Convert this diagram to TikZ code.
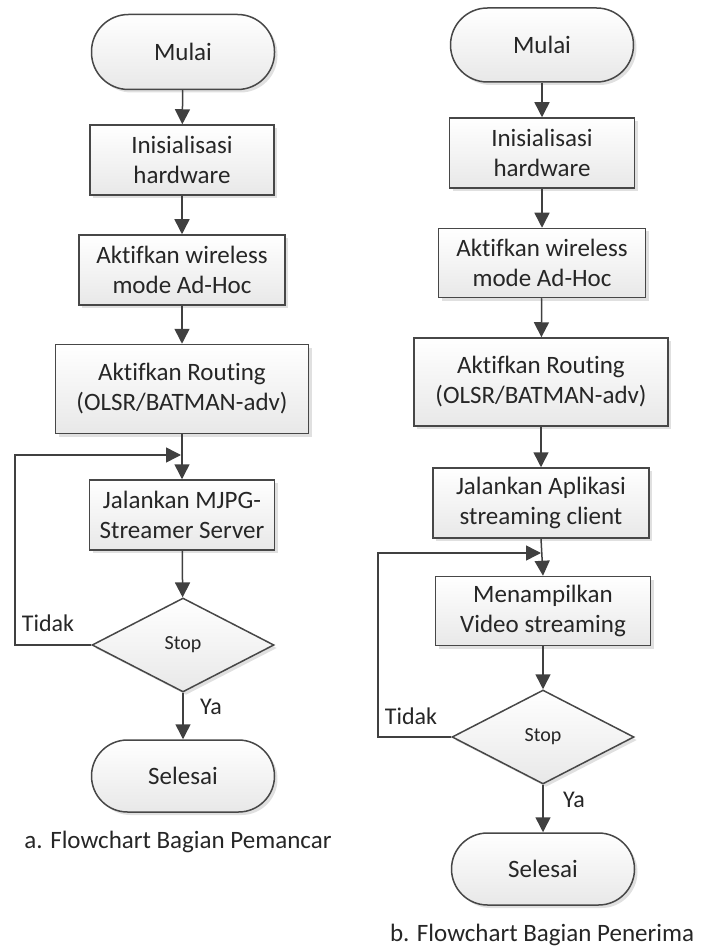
\documentclass[tikz,border=0pt]{standalone}
\usepackage{fontspec}
\setmainfont{Carlito}[Ligatures={NoCommon}]
\usetikzlibrary{arrows.meta,shapes.geometric,shadows}

\begin{document}
\begin{tikzpicture}[x=1pt,y=-1pt,
  every node/.style={font=\fontsize{25}{30}\selectfont, text=black!85},
  boxbase/.style={draw=black!72, line width=1.5pt, top color=white, bottom color=black!9,
    drop shadow={shadow xshift=3pt, shadow yshift=-3pt, fill=black!12, opacity=1},
    inner sep=0pt, align=center},
  procbox/.style={boxbase, rectangle},
  termbox/.style={boxbase, rectangle, rounded corners=36pt, minimum width=183pt, minimum height=73pt},
  decbox/.style={boxbase, diamond, minimum width=182pt, minimum height=94pt,
    font=\fontsize{20}{24}\selectfont},
  flow/.style={draw=black!75, line width=1.5pt, -{Triangle[length=15pt,width=15pt]}},
  looptext/.style={font=\fontsize{24}{28}\selectfont},
  captext/.style={font=\fontsize{25}{30}\selectfont}
]
\useasboundingbox (0,0) rectangle (702,949);

% ---------- transmitter side ----------
\node[termbox, minimum height=75pt, rounded corners=37pt] (L1) at (183,52) {Mulai};
\node[procbox, minimum width=184pt, minimum height=70pt] (L2) at (182,160) {Inisialisasi\\hardware};
\node[procbox, minimum width=206pt, minimum height=70pt] (L3) at (182,270) {Aktifkan wireless\\mode Ad-Hoc};
\node[procbox, minimum width=253pt, minimum height=89pt] (L4) at (182,389) {Aktifkan Routing\\(OLSR/BATMAN-adv)};
\node[procbox, minimum width=185pt, minimum height=70pt] (L5) at (182,515) {Jalankan MJPG-\\Streamer Server};
\node[decbox] (L6) at (183,645) {Stop};
\node[termbox, minimum height=72pt] (L7) at (183,776) {Selesai};
\coordinate (Ljoin) at (182,455);
\coordinate (Lleft) at (15,645);

\draw[flow] (L1) -- (L2);
\draw[flow] (L2) -- (L3);
\draw[flow] (L3) -- (L4);
\draw[flow] (L4.south) -- (L5.north);
\draw[flow] (L5) -- (L6);
\draw[flow] (L6) -- (L7);
\draw[flow] (L6.west) -- (Lleft) |- ([xshift=-1pt]Ljoin);

\node[looptext] (Ltidak) at (48,623) {Tidak};
\node[looptext] (Lya) at (211,707) {Ya};
\node[captext] (Lcap) at (178,842) {a. Flowchart Bagian Pemancar};

% ---------- receiver side ----------
\node[termbox, minimum height=74pt, rounded corners=37pt] (R1) at (542,45) {Mulai};
\node[procbox, minimum width=185pt, minimum height=70pt] (R2) at (542,153) {Inisialisasi\\hardware};
\node[procbox, minimum width=207pt, minimum height=69pt] (R3) at (542,263) {Aktifkan wireless\\mode Ad-Hoc};
\node[procbox, minimum width=254pt, minimum height=88pt] (R4) at (541,382) {Aktifkan Routing\\(OLSR/BATMAN-adv)};
\node[procbox, minimum width=216pt, minimum height=70pt] (R5) at (541,503) {Jalankan Aplikasi\\streaming client};
\node[procbox, minimum width=215pt, minimum height=69pt] (R6) at (543,611) {Menampilkan\\Video streaming};
\node[decbox] (R7) at (543,737) {Stop};
\node[termbox, minimum height=72pt] (R8) at (543,869) {Selesai};
\coordinate (Rjoin) at (542,553);
\coordinate (Rleft) at (378,737);

\draw[flow] (R1) -- (R2);
\draw[flow] (R2) -- (R3);
\draw[flow] (R3) -- (R4);
\draw[flow] (R4.south) -- (R5.north);
\draw[flow] (R5.south) -- (R6.north);
\draw[flow] (R6) -- (R7);
\draw[flow] (R7) -- (R8);
\draw[flow] (R7.west) -- (Rleft) |- ([xshift=-1pt]Rjoin);

\node[looptext] (Rtidak) at (411,716) {Tidak};
\node[looptext] (Rya) at (574,800) {Ya};
\node[captext] (Rcap) at (542,935) {b. Flowchart Bagian Penerima};
\end{tikzpicture}
\end{document}
